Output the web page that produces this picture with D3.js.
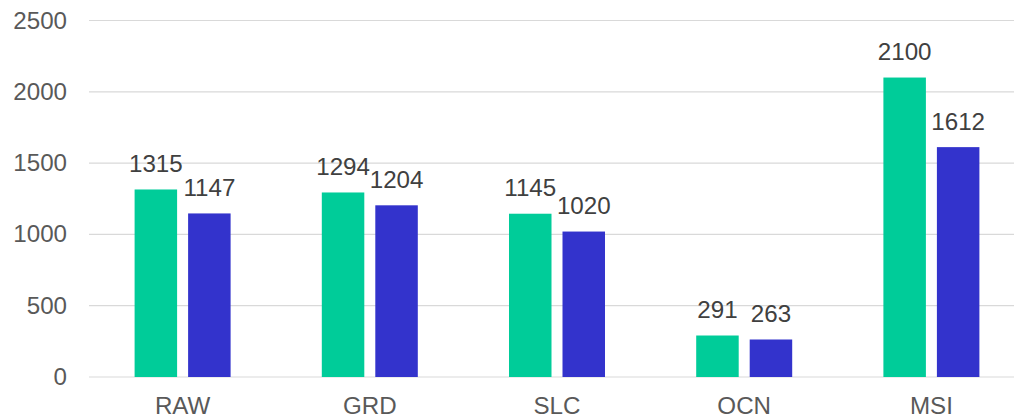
<!DOCTYPE html>
<html>
<head>
<meta charset="utf-8">
<script src="https://cdn.jsdelivr.net/npm/d3@7"></script>
<style>
  body { margin: 0; background: #fff; overflow: hidden; }
  text { font-family: "Liberation Sans", Arial, sans-serif; }
</style>
</head>
<body>
<div class="chart"></div>
<script>
// data
var categories = ["RAW", "GRD", "SLC", "OCN", "MSI"];
var seriesA = [1315, 1294, 1145, 291, 2100];
var seriesB = [1147, 1204, 1020, 263, 1612];
var yTicks = [0, 500, 1000, 1500, 2000, 2500];

var svgWidth = 1014;
var svgHeight = 418;

// plot area runs a bit past the right edge, as in the reference
var margin = { top: 20.5, left: 89, bottom: 41 };
var plotRight = 1025;
var height = svgHeight - margin.top - margin.bottom;

// text in the reference is a little wider than plain Arial
var fontSize = 23;
var stretch = 1.05;

var svg = d3.select(".chart")
  .append("svg")
  .attr("width", svgWidth)
  .attr("height", svgHeight);

var x = d3.scaleBand()
  .domain(categories)
  .range([margin.left, plotRight]);

var y = d3.scaleLinear()
  .domain([0, 2500])
  .range([margin.top + height, margin.top]);

var barW = 42.5;
var gap = 11;

function place(px, py) {
  return `translate(${px}, ${py}) scale(${stretch}, 1)`;
}

// gridlines
svg.append("g")
  .selectAll("line")
  .data(yTicks)
  .enter()
  .append("line")
  .attr("x1", margin.left)
  .attr("x2", plotRight)
  .attr("y1", d => y(d))
  .attr("y2", d => y(d))
  .attr("stroke", "#d9d9d9")
  .attr("stroke-width", 1.2);

// y axis labels
svg.append("g")
  .selectAll("text")
  .data(yTicks)
  .enter()
  .append("text")
  .attr("transform", d => place(67, y(d)))
  .attr("dy", "0.35em")
  .attr("text-anchor", "end")
  .attr("font-size", fontSize)
  .attr("fill", "#595959")
  .text(d => d);

// x axis labels
svg.append("g")
  .selectAll("text")
  .data(categories)
  .enter()
  .append("text")
  .attr("transform", d => place(x(d) + x.bandwidth() / 2, 414))
  .attr("text-anchor", "middle")
  .attr("font-size", fontSize)
  .attr("fill", "#595959")
  .text(d => d);

var series = [
  { values: seriesA, color: "#00cc99", offset: -gap / 2 - barW },
  { values: seriesB, color: "#3333cc", offset: gap / 2 }
];

series.forEach(function(s) {
  var g = svg.append("g");
  g.selectAll("rect")
    .data(categories)
    .enter()
    .append("rect")
    .attr("x", d => x(d) + x.bandwidth() / 2 + s.offset)
    .attr("width", barW)
    .attr("y", (d, i) => y(s.values[i]))
    .attr("height", (d, i) => y(0) - y(s.values[i]))
    .attr("fill", s.color);

  g.selectAll("text")
    .data(categories)
    .enter()
    .append("text")
    .attr("transform", (d, i) => place(x(d) + x.bandwidth() / 2 + s.offset + barW / 2, y(s.values[i]) - 17.5))
    .attr("text-anchor", "middle")
    .attr("font-size", fontSize)
    .attr("fill", "#404040")
    .text((d, i) => s.values[i]);
});
</script>
</body>
</html>
